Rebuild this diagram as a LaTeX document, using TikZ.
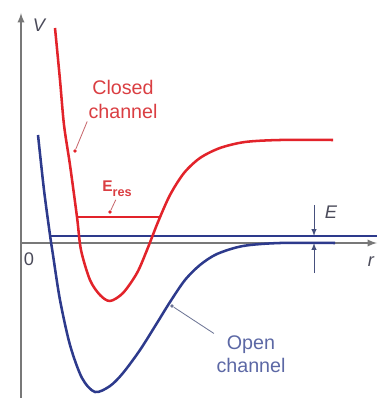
\documentclass[tikz,border=0pt]{standalone}
\usepackage{fontspec}
\setsansfont{Liberation Sans}
\definecolor{axisgray}{RGB}{120,120,120}
\definecolor{axtextgray}{RGB}{75,75,90}
\definecolor{closedred}{RGB}{226,35,42}
\definecolor{redtext}{RGB}{218,62,66}
\definecolor{redlead}{RGB}{200,105,110}
\definecolor{openblue}{RGB}{45,58,140}
\definecolor{bluetext}{RGB}{92,104,165}
\definecolor{bluelead}{RGB}{110,118,150}
\definecolor{emarkcol}{RGB}{70,80,125}
\begin{document}
\begin{tikzpicture}[
        x=0.025cm, y=-0.025cm,
        >=latex,
        axis/.style={draw=axisgray, line width=1.3pt},
        potcurve/.style={line width=1.8pt, line join=round},
        chtext/.style={font=\sffamily\fontsize{14}{17}\selectfont, align=center, inner sep=0pt},
        axtext/.style={font=\sffamily\fontsize{13}{15}\selectfont, text=axtextgray, inner sep=0pt},
        leader/.style={line width=0.6pt},
        emark/.style={draw=emarkcol, line width=0.7pt},
        dot/.style={circle, inner sep=0pt, minimum size=2.6pt}
    ]
    \useasboundingbox (0,0) rectangle (377,398);

    % 1. Ejes V y r
    \coordinate (vbot) at (21,398);
    \coordinate (vtop) at (21,13);
    \coordinate (rleft) at (21,243);
    \coordinate (rright) at (377,243);
    \draw[axis,->] (vbot) -- (vtop);
    \draw[axis,->] (rleft) -- (rright);
    \node[axtext] (vlab) at (39,25) {\itshape V};
    \node[axtext] (rlab) at (371,262) {\itshape r};
    \node[axtext] (zero) at (29,259) {0};

    % 2. Linea de energia E
    \coordinate (eleft) at (50,236);
    \coordinate (eright) at (377,236);
    \draw[openblue, line width=1.9pt] (eleft) -- (eright);

    % 3. Canal abierto
    \draw[potcurve, openblue] plot[smooth] coordinates {
        (38,135) (44,190) (50,235) (53,255) (60,300) (70,345) (82,378)
        (95,392) (110,386) (123,373) (140,350) (157,323) (170,302)
        (185,280) (200,265) (217,254) (243,246) (280,243) (335,243)};

    % 4. Canal cerrado
    \draw[potcurve, closedred] plot[smooth] coordinates {
        (55,28) (60,80) (64,125) (70,165) (77,217) (81,250) (90,280)
        (100,295) (110,301) (123,293) (137,273) (147,250) (158,222)
        (170,195) (184,173) (200,158) (220,148) (245,142) (280,140) (333,140)};

    % 5. Nivel resonante
    \coordinate (resl) at (77,217);
    \coordinate (resr) at (160,217);
    \draw[closedred, line width=1.6pt] (resl) -- (resr);

    % 6. Etiquetas de los canales
    \node[chtext, text=redtext, anchor=north] (closed) at (123,80) {Closed\\channel};
    \node[dot, fill=closedred] (cdot) at (75,151) {};
    \draw[leader, draw=redlead, shorten <=2pt] (closed.south west) -- (cdot);

    \node[chtext, text=bluetext, anchor=north] (open) at (251,335) {Open\\channel};
    \node[dot, fill=bluelead] (odot) at (172,306) {};
    \draw[leader, draw=bluelead, shorten <=2pt] (open.north west) -- (odot);

    % 7. E_res
    \node[font=\sffamily\bfseries\fontsize{11}{13}\selectfont, text=redtext,
          anchor=base west, inner sep=0pt] (eres) at (102,192)
          {E\raisebox{-0.6ex}{\fontsize{9}{10}\selectfont res}};
    \node[dot, fill=closedred] (rdot) at (110,212) {};
    \draw[leader, draw=redlead, shorten <=2pt] (eres.south) -- (rdot);

    % 8. Marca de E
    \coordinate (etop) at (314,205);
    \coordinate (ebot) at (314,273);
    \coordinate (eup) at (314,236);
    \coordinate (edown) at (314,243);
    \draw[emark,->] (etop) -- (eup);
    \draw[emark,->] (ebot) -- (edown);
    \node[axtext] (elab) at (331,212) {\itshape E};

\end{tikzpicture}
\end{document}
